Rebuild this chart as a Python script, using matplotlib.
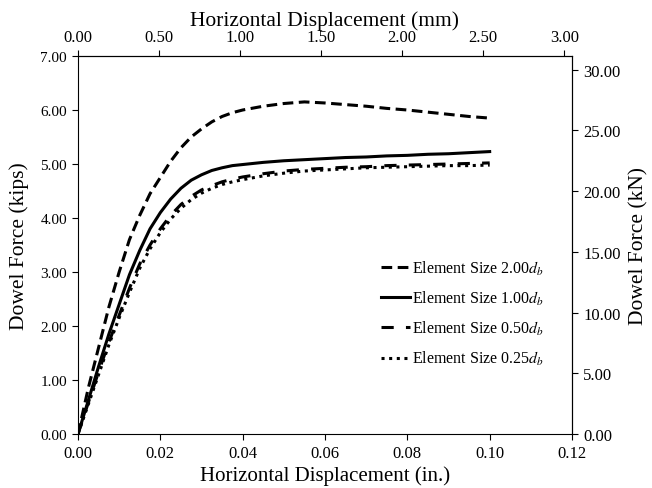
import matplotlib.pyplot as plt
import numpy as np

plt.rcParams['font.family'] = ['Liberation Serif', 'DejaVu Serif']
plt.rcParams['mathtext.fontset'] = 'stix'

# ---- data (displacement in in., force in kips) ----
x_in = [0.0, 0.0025, 0.005, 0.0075, 0.01, 0.0125, 0.015, 0.0175, 0.02, 0.0225, 0.025,
        0.0275, 0.03, 0.0325, 0.035, 0.0375, 0.04, 0.045, 0.05, 0.055, 0.06, 0.065,
        0.07, 0.075, 0.08, 0.085, 0.09, 0.095, 0.10]

f_200 = [0.0, 0.85, 1.6, 2.35, 3.0, 3.6, 4.05, 4.45, 4.75, 5.05, 5.3,
         5.5, 5.65, 5.78, 5.88, 5.95, 6.0, 6.07, 6.12, 6.15, 6.13, 6.1,
         6.07, 6.03, 6.0, 5.96, 5.92, 5.88, 5.85]
f_100 = [0.0, 0.62, 1.25, 1.85, 2.4, 2.95, 3.4, 3.8, 4.1, 4.35, 4.55,
         4.7, 4.8, 4.88, 4.93, 4.97, 4.99, 5.03, 5.06, 5.08, 5.1, 5.12,
         5.13, 5.15, 5.16, 5.18, 5.19, 5.21, 5.23]
f_050 = [0.0, 0.58, 1.15, 1.7, 2.2, 2.7, 3.15, 3.5, 3.8, 4.05, 4.25,
         4.4, 4.52, 4.6, 4.67, 4.72, 4.76, 4.82, 4.87, 4.9, 4.92, 4.94,
         4.95, 4.97, 4.98, 4.99, 5.0, 5.01, 5.02]
f_025 = [0.0, 0.55, 1.1, 1.65, 2.15, 2.62, 3.07, 3.43, 3.73, 3.98, 4.18,
         4.34, 4.46, 4.55, 4.62, 4.67, 4.71, 4.78, 4.83, 4.87, 4.89, 4.91,
         4.93, 4.94, 4.95, 4.96, 4.97, 4.97, 4.98]

labels = [r'Element Size 2.00$d_b$', r'Element Size 1.00$d_b$',
          r'Element Size 0.50$d_b$', r'Element Size 0.25$d_b$']

# ---- plot ================================================================
fig = plt.figure(figsize=(6.52, 4.89), dpi=100)
ax = fig.add_axes([78 / 652, 1 - 435 / 489, (572 - 78) / 652, (435 - 57) / 489])

ax.plot(x_in, f_200, color='black', lw=2.2, linestyle=(0, (3.5, 1.8)), label=labels[0])
ax.plot(x_in, f_100, color='black', lw=2.2, linestyle='-', label=labels[1])
ax.plot(x_in, f_050, color='black', lw=2.2, linestyle=(0, (4, 4)), label=labels[2])
ax.plot(x_in, f_025, color='black', lw=2.2, linestyle=(0, (1, 1.5)), label=labels[3])

ax.set_xlim(0, 0.12)
ax.set_ylim(0, 7)
ax.set_xticks(np.arange(0, 0.121, 0.02))
ax.set_yticks(np.arange(0, 7.01, 1))
ax.xaxis.set_major_formatter(plt.FormatStrFormatter('%.2f'))
ax.yaxis.set_major_formatter(plt.FormatStrFormatter('%.2f'))
ax.tick_params(axis='x', direction='out', length=4.5, labelsize=12)
ax.tick_params(axis='y', direction='out', length=4.5, labelsize=11)
ax.set_xlabel('Horizontal Displacement (in.)', fontsize=15, labelpad=3)
ax.set_ylabel('Dowel Force (kips)', fontsize=15.5, labelpad=8)

# secondary axes in SI units
top = ax.secondary_xaxis('top', functions=(lambda v: v * 25.4, lambda v: v / 25.4))
top.set_xticks(np.arange(0, 3.01, 0.5))
top.xaxis.set_major_formatter(plt.FormatStrFormatter('%.2f'))
top.tick_params(direction='out', length=4.5, labelsize=12)
top.set_xlabel('Horizontal Displacement (mm)', fontsize=15.5, labelpad=3)

right = ax.secondary_yaxis('right', functions=(lambda v: v * 4.448, lambda v: v / 4.448))
right.set_yticks(np.arange(0, 30.1, 5))
right.yaxis.set_major_formatter(plt.FormatStrFormatter('%.2f'))
right.tick_params(direction='out', length=4.5, labelsize=12)
right.set_ylabel('Dowel Force (kN)', fontsize=15.5, labelpad=6)

ax.legend(loc='center left', bbox_to_anchor=(0.585, 0.32), frameon=False, fontsize=11.5,
          handlelength=1.8, handletextpad=0.1, labelspacing=0.75)

plt.savefig('out.png', dpi=100)
